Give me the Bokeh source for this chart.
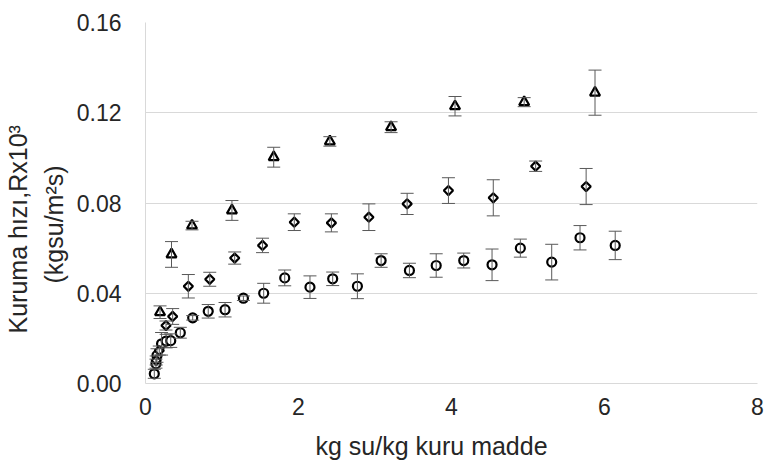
import math
from bokeh.plotting import figure
from bokeh.models import (ColumnDataSource, Whisker, TeeHead, FixedTicker,
                          PrintfTickFormatter, Title, Range1d)
from bokeh.embed import file_html
from bokeh.resources import INLINE

# ---- data ----
circle_x = [0.115, 0.137, 0.15, 0.21, 0.27, 0.33, 0.455, 0.617, 0.82, 1.04, 1.28,
            1.545, 1.82, 2.15, 2.447, 2.77, 3.08, 3.45, 3.80, 4.16, 4.53, 4.90,
            5.31, 5.68, 6.14]
circle_y = [0.0043, 0.0088, 0.0124, 0.0176, 0.0188, 0.019, 0.0225, 0.0291, 0.032,
            0.0327, 0.0378, 0.040, 0.0468, 0.0427, 0.0464, 0.0431, 0.0545, 0.0501,
            0.0523, 0.0545, 0.0526, 0.060, 0.0538, 0.0646, 0.0612]
circle_err = [0.002, 0.002, 0.003, 0.005, 0.003, 0.003, 0.0024, 0.001, 0.003, 0.0032,
              0.001, 0.0044, 0.0035, 0.005, 0.003, 0.0055, 0.003, 0.0032, 0.0052,
              0.0033, 0.007, 0.004, 0.0079, 0.0054, 0.0063]

diamond_x = [0.14, 0.18, 0.268, 0.355, 0.56, 0.84, 1.166, 1.53, 1.945, 2.43, 2.92,
             3.42, 3.96, 4.546, 5.10, 5.76]
diamond_y = [0.0102, 0.0146, 0.0257, 0.0297, 0.0431, 0.0462, 0.0556, 0.0612, 0.0715,
             0.0712, 0.0737, 0.0796, 0.0855, 0.0823, 0.0963, 0.0873]
diamond_err = [0.002, 0.002, 0.002, 0.0035, 0.0052, 0.0031, 0.0027, 0.0032, 0.0037,
               0.004, 0.0059, 0.0047, 0.0057, 0.008, 0.0023, 0.008]

triangle_x = [0.19, 0.34, 0.608, 1.13, 1.676, 2.41, 3.21, 4.046, 4.95, 5.876]
triangle_y = [0.0316, 0.0572, 0.070, 0.0767, 0.1003, 0.1073, 0.1136, 0.1229, 0.1247,
              0.1289]
triangle_err = [0.0028, 0.0057, 0.0019, 0.0044, 0.0044, 0.0021, 0.0024, 0.0043,
                0.002, 0.01]

x_ticks = [0, 2, 4, 6, 8]
y_ticks = [0.0, 0.04, 0.08, 0.12, 0.16]
x_title = "kg su/kg kuru madde"
y_title_1 = "Kuruma hızı,Rx10³"
y_title_2 = "(kgsu/m²s)"

FONT = "Liberation Sans"
TXT = "#262626"
GRID = "#d9d9d9"
BAR = "#595959"

p = figure(width=768, height=473, output_backend="svg", toolbar_location=None,
           x_range=Range1d(0, 8), y_range=Range1d(0, 0.16),
           min_border_left=145, min_border_right=11, min_border_top=22,
           min_border_bottom=90)
p.outline_line_color = None
p.background_fill_color = "white"
p.border_fill_color = "white"

p.xgrid.grid_line_color = None
p.ygrid.grid_line_color = GRID
p.ygrid.grid_line_width = 1

p.xaxis.ticker = FixedTicker(ticks=x_ticks)
p.yaxis.ticker = FixedTicker(ticks=y_ticks)
p.yaxis.formatter = PrintfTickFormatter(format="%.2f")
for ax in (p.xaxis, p.yaxis):
    ax.axis_line_color = GRID
    ax.axis_line_width = 1
    ax.major_tick_line_color = None
    ax.minor_tick_line_color = None
    ax.major_tick_out = 0
    ax.major_tick_in = 0
    ax.major_label_text_font = FONT
    ax.major_label_text_font_size = "23px"
    ax.major_label_text_color = TXT
p.yaxis.major_label_standoff = 24
p.xaxis.major_label_standoff = 14


def add_series(xs, ys, errs, marker, size, angle=0.0):
    src = ColumnDataSource(dict(x=xs, y=ys,
                                lo=[a - b for a, b in zip(ys, errs)],
                                hi=[a + b for a, b in zip(ys, errs)]))
    w = Whisker(source=src, base="x", upper="hi", lower="lo", dimension="height",
                line_color=BAR, line_width=1,
                upper_head=TeeHead(size=13, line_color=BAR, line_width=1),
                lower_head=TeeHead(size=13, line_color=BAR, line_width=1))
    w.level = "glyph"
    p.add_layout(w)
    p.scatter("x", "y", source=src, marker=marker, size=size, angle=angle,
              fill_color="white", line_color="black", line_width=2.2)


add_series(circle_x, circle_y, circle_err, "circle", 9)
add_series(diamond_x, diamond_y, diamond_err, "square", 6.5, math.pi / 4)
add_series(triangle_x, triangle_y, triangle_err, "triangle", 10)


def title(text, loc, offset, standoff, line_height=1.2):
    t = Title(text=text, align="left", offset=offset, standoff=standoff,
              text_font=FONT, text_font_size="25px", text_font_style="normal",
              text_color=TXT, text_line_height=line_height)
    p.add_layout(t, loc)


# x-axis title below, y-axis title as two rotated lines on the left
title(x_title, "below", 170, 25, 1.0)
title(y_title_2, "left", 100, 12, 0.9)
title(y_title_1, "left", 50, 0, 0.9)

open("out.html", "w").write(file_html(p, INLINE))
